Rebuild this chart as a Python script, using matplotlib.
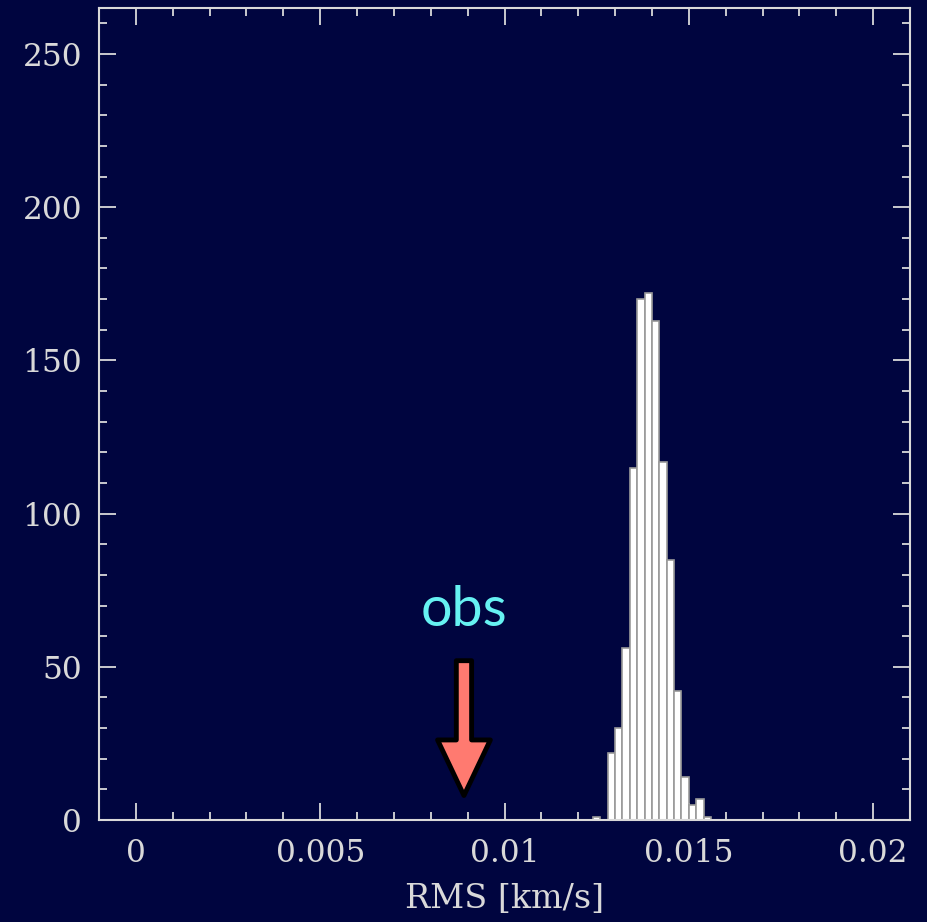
import numpy as np
import matplotlib
matplotlib.use('Agg')
import matplotlib.pyplot as plt
from matplotlib.ticker import MultipleLocator

# histogram of simulated RMS values, bin width 0.0002 km/s
bin_left = [0.0124, 0.0126, 0.0128, 0.0130, 0.0132, 0.0134, 0.0136, 0.0138,
            0.0140, 0.0142, 0.0144, 0.0146, 0.0148, 0.0150, 0.0152, 0.0154]
counts = [1, 0, 22, 30, 56, 115, 170, 172, 163, 117, 85, 42, 14, 5, 7, 1]
bin_width = 0.0002

obs_x = 0.0089
obs_label = 'obs'

bg = '#00053f'
fg = '#d9d9d9'

fig = plt.figure(figsize=(9.28, 9.22), dpi=100, facecolor=bg)
ax = fig.add_axes([0.1067, 0.1106, 0.8739, 0.8807], facecolor=bg)

ax.bar(bin_left, counts, width=bin_width, align='edge',
       color='white', edgecolor='#9a9a9a', linewidth=1.2, zorder=2)

ax.set_xlim(-0.001, 0.021)
ax.set_ylim(0, 265)

ax.xaxis.set_minor_locator(MultipleLocator(0.001))
ax.yaxis.set_major_locator(MultipleLocator(50))
ax.yaxis.set_minor_locator(MultipleLocator(10))
ax.set_xticks([0, 0.005, 0.01, 0.015, 0.02])
ax.set_xticklabels(['0', '0.005', '0.01', '0.015', '0.02'])

for s in ax.spines.values():
    s.set_color(fg)
    s.set_linewidth(1.5)

ax.tick_params(which='both', direction='in', top=True, right=True,
               color=fg, width=1.3)
ax.tick_params(which='major', length=12)
ax.tick_params(which='minor', length=6)
ax.tick_params(axis='x', which='major', pad=13, labelsize=22.5, labelcolor=fg)
ax.tick_params(axis='y', which='major', pad=12, labelsize=22.5, labelcolor=fg)
for lab in ax.get_xticklabels() + ax.get_yticklabels():
    lab.set_family('DejaVu Serif')

ax.set_xlabel('RMS [km/s]', family='DejaVu Serif', fontsize=24,
              color=fg, labelpad=10)

# observed value marker
ax.annotate('', xy=(obs_x, 8), xytext=(obs_x, 52),
            arrowprops=dict(arrowstyle='simple,head_length=4.0,head_width=3.8,tail_width=1.1',
                            mutation_scale=10, fc='#ff7a70', ec='black', lw=3.5,
                            shrinkA=0, shrinkB=0), zorder=3)
ax.text(obs_x, 60, obs_label, ha='center', va='bottom', color='#66f2f2',
        family='Lato', fontsize=40)

fig.savefig('out.png', dpi=100, facecolor=bg)
